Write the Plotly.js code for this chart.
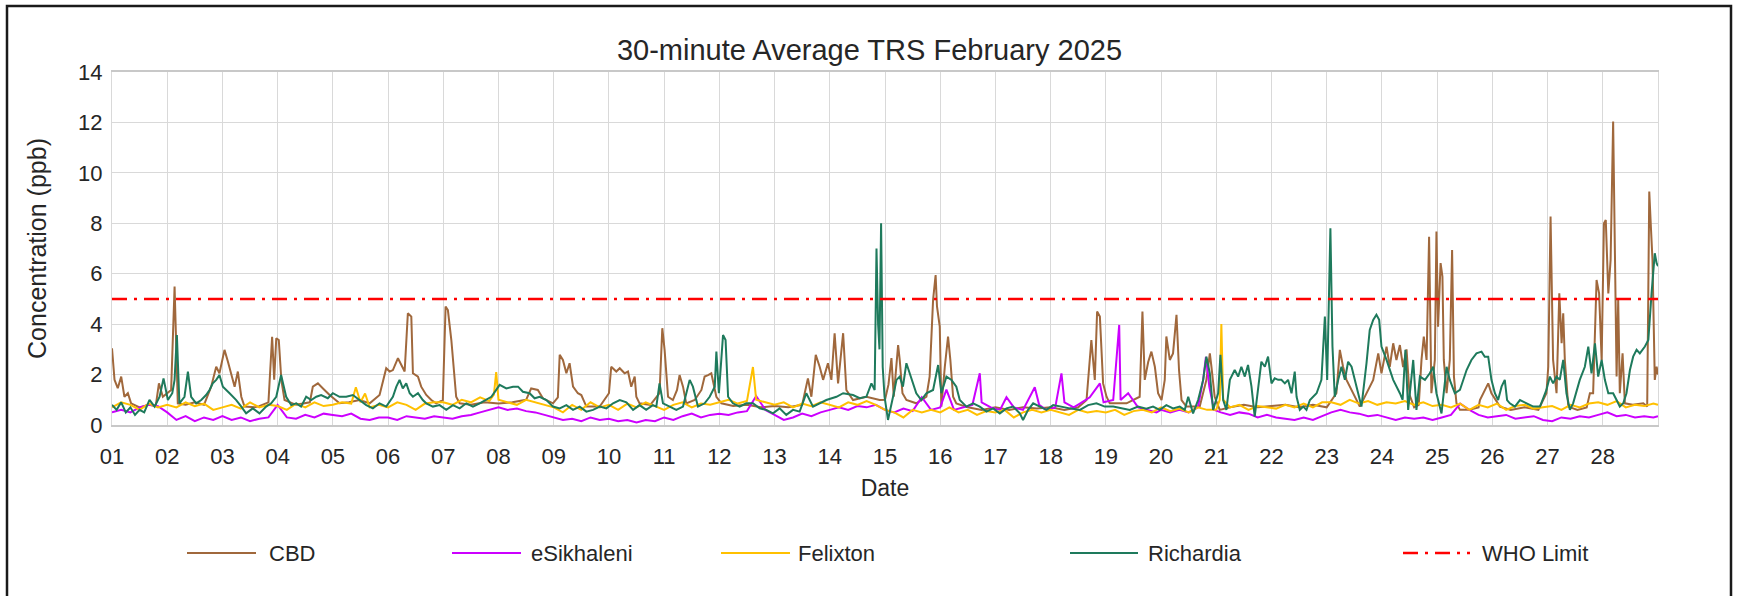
<!DOCTYPE html>
<html><head><meta charset="utf-8">
<script src="https://cdn.plot.ly/plotly-3.0.1.min.js"></script>
<style>html,body{margin:0;padding:0;background:#fff;}#chart{width:1739px;height:596px;}</style>
</head><body><div id="chart"></div>
<script>
// ---- data (hours since 2025-02-01 00:00, concentration ppb) ----
const seriesNames = ['CBD', 'eSikhaleni', 'Felixton', 'Richardia', 'WHO Limit'];
const dayLabels = ['01','02','03','04','05','06','07','08','09','10','11','12','13','14','15','16','17','18','19','20','21','22','23','24','25','26','27','28'];
const whoLimit = 5;

const cbd = [[0,3.04],[1.1,1.79],[2.5,1.46],[4,1.92],[5.4,1.12],[6.9,1.26],[8.3,0.86],[12,0.7],[16,0.8],[19,0.75],[20.4,1.65],[22.1,1.12],[25.7,1.39],[27.2,5.49],[28.6,0.86],[32,0.8],[36,0.9],[40,0.8],[43.1,1.52],[45.3,2.31],[46.7,2.05],[48.9,2.98],[50.4,2.51],[51.8,2.05],[53.3,1.52],[54.7,2.12],[56.2,1.12],[57.6,0.73],[62,0.7],[64,0.75],[68,0.9],[69.6,3.5],[70.5,1.8],[71.4,3.44],[72.5,3.37],[73.6,1.79],[75,0.99],[80,0.8],[86,0.9],[87.3,1.52],[89.5,1.65],[91.7,1.45],[94.6,1.19],[98.9,0.86],[103,0.9],[107.6,0.99],[112,0.86],[116.3,1.19],[119.2,2.25],[120.7,2.12],[122.1,2.18],[124.3,2.65],[125.7,2.38],[127.2,2.12],[128.6,4.43],[130.1,4.3],[130.8,2.05],[133,1.92],[134.4,1.52],[136.6,1.19],[138.8,0.99],[140.9,0.86],[143.8,0.99],[145,4.7],[146,4.56],[147.5,3.37],[149.6,1.12],[151.1,0.86],[156,0.8],[162,0.9],[168,0.85],[174,0.9],[180,1.0],[182.2,1.45],[185.1,1.39],[187.3,1.06],[191.7,0.86],[193.8,1.1],[194.6,2.78],[196,2.58],[197.5,2.05],[198.9,2.45],[200.4,1.52],[202.5,1.26],[204,1.19],[206.2,0.73],[212,0.73],[216,1.26],[217,2.31],[219.2,2.12],[220.7,2.25],[222.8,2.05],[224.3,2.12],[225.7,1.52],[227.2,1.92],[227.9,1.12],[229.3,0.86],[234,0.8],[238,1.26],[239.2,3.84],[240.2,2.98],[241.7,1.12],[243.8,0.99],[245.6,1.39],[246.7,1.98],[248.2,1.52],[249.6,0.86],[253.3,0.99],[256.2,1.39],[257.6,1.92],[259.1,1.98],[260.5,2.05],[262.7,1.12],[264.9,0.86],[270,0.75],[276,0.8],[282,0.7],[288,0.75],[294,0.7],[300,0.8],[302.5,1.85],[304,1.12],[305.9,2.78],[307.6,2.31],[309.1,1.79],[311.2,2.45],[312.7,1.79],[314.1,3.64],[315.6,1.65],[317.8,3.64],[319.2,1.39],[322.1,0.99],[327.9,1.12],[333.7,0.99],[336,1.0],[337.5,1.6],[338.8,2.65],[339.8,1.12],[341.7,3.17],[342.4,2.58],[343.6,1.26],[345.3,0.99],[349.6,0.86],[354,1.12],[355.4,1.92],[356.9,4.96],[358,5.95],[358.6,4.7],[359.8,3.9],[360.5,0.73],[362,2.31],[363.4,3.51],[364.4,2.58],[365.6,1.12],[367,0.86],[372,0.7],[378,0.6],[384,0.7],[390,0.6],[396,0.7],[402,0.65],[408,0.7],[414,0.6],[420,0.7],[423.6,0.99],[425.7,3.37],[427.2,1.79],[428.2,4.5],[429.4,4.3],[430.8,1.65],[432.3,1.12],[433.7,0.86],[441,0.86],[446.7,1.12],[447.9,4.5],[448.9,1.79],[450.4,2.5],[451.8,2.91],[453.3,2.31],[454.7,1.26],[456.2,0.99],[457.6,1.79],[458.3,3.51],[459.8,2.58],[461.2,2.84],[462.7,4.37],[463.8,2.18],[464.9,0.99],[467,0.73],[472.8,0.73],[475.7,1.79],[477.2,2.84],[477.9,2.31],[479.3,1.12],[481.5,0.6],[486,0.7],[492,0.8],[498,0.7],[504,0.75],[510,0.8],[516,0.7],[522,0.8],[528,0.7],[532.2,1.26],[533.7,2.98],[535.1,2.31],[536.6,1.79],[539.5,1.26],[542.4,0.73],[548.2,1.79],[550.4,2.84],[551.8,2.05],[554,3.11],[555.4,2.31],[556.9,3.24],[558.3,2.58],[559.8,3.17],[561.2,2.3],[562.7,3.0],[564,1.2],[566,0.7],[568,0.8],[569.2,2.58],[570.2,3.51],[571.4,2.58],[572.5,7.47],[573.5,1.26],[575,2.58],[575.7,7.67],[576.4,3.9],[577.5,6.42],[578.3,5.89],[578.9,2.58],[580.1,1.26],[581.5,2.58],[582.5,6.94],[583.3,1.92],[584.4,0.86],[585.9,0.6],[590,0.6],[594,0.7],[594.6,0.99],[598.2,1.65],[599.6,1.26],[603.3,0.73],[608,0.6],[614,0.7],[620,0.6],[623.5,1.26],[624.3,2.31],[625.3,8.27],[626.4,2.58],[627.9,1.26],[629.1,5.22],[630.1,3.24],[630.8,4.43],[631.5,2.58],[633,0.73],[637,0.6],[641,0.7],[642.4,1.26],[643.8,1.26],[645.3,5.75],[646.4,5.22],[647.5,2.58],[648.5,8.0],[649.3,8.13],[650.4,5.22],[651.4,6.55],[652.5,12.04],[653.3,5.22],[654,1.92],[654.7,4.96],[655.4,1.26],[656.6,2.84],[657.6,0.86],[661,0.8],[665.6,0.86],[667.3,0.73],[668.2,9.26],[668.9,7.87],[669.6,6.55],[670.6,1.79],[671.4,2.31],[672,2.0]];

const eSikhaleni = [[0,0.5],[4,0.6],[8,0.5],[12,0.7],[16,0.8],[20,0.75],[24,0.5],[28,0.2],[32,0.35],[36,0.15],[40,0.3],[44,0.2],[48,0.35],[52,0.2],[56,0.3],[60,0.15],[64,0.25],[68,0.3],[72,0.8],[76,0.3],[80,0.25],[84,0.4],[88,0.3],[92,0.45],[96,0.4],[100,0.35],[104,0.45],[108,0.25],[112,0.2],[116,0.3],[120,0.3],[124,0.2],[128,0.35],[132,0.3],[136,0.25],[140,0.35],[144,0.3],[148,0.25],[152,0.35],[156,0.4],[160,0.5],[164,0.6],[168,0.7],[172,0.6],[176,0.65],[180,0.55],[184,0.5],[188,0.4],[192,0.3],[196,0.2],[200,0.25],[204,0.15],[208,0.3],[212,0.2],[216,0.25],[220,0.15],[224,0.2],[228,0.1],[232,0.2],[236,0.15],[240,0.3],[244,0.2],[248,0.35],[252,0.45],[256,0.3],[260,0.4],[264,0.45],[268,0.4],[272,0.5],[276,0.55],[280,1.15],[284,0.6],[288,0.4],[292,0.2],[296,0.3],[300,0.45],[304,0.35],[308,0.5],[312,0.6],[316,0.7],[320,0.6],[324,0.75],[328,0.7],[332,0.8],[336,0.6],[340,0.5],[344,0.65],[348,0.55],[352,1.1],[356,0.6],[360,0.7],[362.7,1.4],[366,0.6],[370,0.7],[374,0.8],[377.2,2.05],[378,0.9],[382,0.7],[386,0.6],[388.8,1.1],[392,0.7],[396,0.6],[401.1,1.5],[403,0.8],[406,0.6],[410,0.7],[412.7,2.05],[414,0.9],[418,0.7],[420.7,0.85],[425,1.1],[429.4,1.65],[431,0.9],[435.2,0.99],[437.8,3.97],[438.4,0.99],[441.7,1.26],[446,0.7],[450,0.6],[454,0.5],[456,0.6],[460,0.5],[464,0.6],[468,0.5],[472,0.7],[474.3,1.8],[475.5,2.7],[477,1.5],[479,0.6],[482,0.5],[486,0.4],[490,0.5],[494,0.45],[498,0.3],[502,0.4],[506,0.3],[510,0.25],[514,0.2],[518,0.3],[522,0.2],[526,0.35],[530,0.5],[534,0.6],[538,0.5],[542,0.45],[546,0.35],[550,0.4],[554,0.3],[558,0.2],[562,0.3],[566,0.25],[570,0.3],[574,0.2],[578,0.3],[582,0.4],[586,0.85],[590,0.6],[594,0.4],[598,0.3],[602,0.35],[606,0.4],[610,0.25],[614,0.3],[618,0.35],[622,0.2],[626,0.15],[630,0.3],[634,0.25],[638,0.35],[642,0.3],[646,0.4],[650,0.5],[654,0.35],[658,0.4],[662,0.3],[666,0.35],[670,0.3],[672,0.35]];

const felixton = [[0,0.7],[4,0.9],[8,0.8],[12,0.6],[16,0.85],[20,0.7],[24,0.8],[28,0.7],[32,0.9],[36,0.75],[40,0.85],[44,0.6],[48,0.7],[52,0.8],[56,0.65],[60,0.9],[64,0.7],[68,0.8],[72,0.75],[76,0.6],[80,0.85],[84,0.7],[88,0.9],[92,0.75],[96,0.8],[100,0.9],[104,0.85],[106,1.5],[108,0.9],[110,1.25],[112,0.7],[116,0.8],[120,0.7],[124,0.9],[128,0.8],[132,0.6],[136,0.85],[140,0.9],[144,0.9],[148,0.8],[152,1.0],[156,0.9],[160,1.1],[164,0.95],[166,1.2],[167,2.1],[168,1.0],[172,0.9],[176,0.8],[180,1.0],[184,0.9],[188,0.8],[192,0.7],[196,0.5],[200,0.8],[204,0.6],[208,0.9],[212,0.7],[216,0.8],[220,0.6],[224,0.85],[228,0.7],[232,0.9],[236,0.75],[240,0.6],[244,0.8],[248,0.9],[252,0.7],[256,0.85],[260,0.8],[264,0.9],[268,1.0],[272,0.85],[276,0.95],[278.6,2.3],[280,1.0],[284,0.9],[288,0.8],[292,0.9],[296,0.7],[300,0.85],[304,0.75],[308,0.9],[312,0.8],[316,0.7],[320,0.9],[324,0.8],[328,0.95],[332,0.8],[336,0.6],[340,0.5],[344,0.3],[348,0.6],[352,0.5],[356,0.6],[360,0.5],[364,0.7],[368,0.5],[372,0.6],[376,0.4],[380,0.55],[384,0.5],[388,0.6],[392,0.3],[396,0.5],[400,0.6],[404,0.5],[408,0.6],[412,0.5],[416,0.4],[420,0.6],[424,0.5],[428,0.55],[432,0.5],[436,0.6],[440,0.4],[444,0.55],[448,0.6],[452,0.5],[456,0.7],[460,0.55],[464,0.65],[468,0.5],[472,0.7],[476,0.6],[480,0.6],[481.5,1.0],[482.2,4.0],[483,1.0],[486,0.7],[490,0.8],[494,0.6],[498,0.75],[502,0.7],[506,0.65],[510,0.8],[514,0.7],[518,0.85],[522,0.7],[526,0.9],[530,0.9],[534,0.8],[538,1.0],[542,0.85],[546,0.95],[550,0.8],[554,0.9],[558,0.85],[562,0.95],[566,0.8],[570,0.9],[574,0.75],[578,0.8],[582,0.7],[586,0.85],[590,0.6],[594,0.8],[598,0.7],[602,0.85],[606,0.6],[610,0.75],[614,0.8],[618,0.65],[622,0.7],[626,0.75],[630,0.6],[634,0.8],[638,0.7],[642,0.85],[646,0.9],[650,0.8],[654,0.95],[658,0.7],[662,0.8],[666,0.75],[670,0.85],[672,0.8]];

const richardia = [[0,0.8],[2,0.6],[4,0.9],[6,0.5],[8,0.7],[10,0.4],[12,0.6],[14,0.5],[16.3,1.0],[18.5,0.73],[20.7,1.12],[22.4,1.85],[24.3,0.99],[26.2,1.26],[27.2,1.79],[28.2,3.57],[29.3,0.86],[31.5,1.12],[33,2.12],[34.4,1.12],[36.6,0.86],[38.8,0.99],[40.9,1.19],[42.4,1.39],[43.8,1.65],[45.3,1.79],[46.7,1.98],[48.2,1.52],[51.1,1.26],[54,0.99],[56.2,0.73],[58.3,0.46],[61.2,0.66],[64.1,0.46],[67,0.73],[69.2,0.86],[71.4,1.12],[73.5,1.98],[75.7,1.12],[77.9,0.79],[80.1,0.86],[82.2,0.73],[84.4,1.12],[86.6,0.99],[88.8,1.12],[90.9,1.19],[93.8,1.06],[96,1.26],[98.9,1.12],[101.8,1.12],[104.7,1.19],[107.6,0.99],[110.5,0.79],[113.4,0.66],[116.3,0.86],[119.2,0.73],[122.1,1.12],[123.6,1.52],[125,1.79],[126.4,1.45],[127.9,1.65],[129.4,1.26],[130.8,1.12],[133,1.26],[135.1,0.99],[136.6,0.86],[139.5,0.73],[142.4,0.79],[145.3,0.6],[148.2,0.79],[151.1,0.66],[154,0.86],[156.9,0.73],[159.8,0.86],[162.7,0.99],[164.9,1.12],[167,1.39],[168.5,1.59],[171.4,1.45],[174.3,1.52],[176.5,1.52],[178.6,1.32],[181.5,1.26],[183.7,1.06],[185.9,1.12],[188.8,0.99],[191.7,0.73],[194.6,0.66],[197.5,0.79],[200.4,0.6],[203.3,0.73],[206.2,0.53],[209.1,0.6],[212,0.73],[214.9,0.66],[217.8,0.86],[220.7,0.99],[223.6,0.9],[226.5,0.6],[229.3,0.79],[232.2,0.6],[235.1,0.79],[236.6,0.73],[238,1.65],[239.5,0.86],[242.4,0.73],[245.3,0.6],[248.2,0.73],[251.1,1.79],[252.5,1.52],[254.7,0.73],[257.6,0.86],[259.8,1.12],[262,1.52],[262.7,2.91],[263.8,1.26],[265.6,3.57],[266.7,3.37],[267.8,1.12],[269.9,0.86],[272.8,0.73],[275.7,0.86],[278.6,0.86],[281.5,0.66],[284.4,0.6],[287.3,0.46],[290.2,0.66],[293.1,0.4],[296,0.6],[298.9,0.53],[301.8,1.26],[304.7,0.73],[307.6,0.86],[310.5,0.99],[314.9,1.12],[317.8,1.26],[322.1,1.19],[325,1.06],[327.9,1.12],[330.1,1.65],[331.5,1.39],[332.3,7.0],[333,4.0],[333.6,3.0],[334.3,8.0],[335,2.31],[335.8,1.12],[337.3,0.2],[339.5,1.12],[341,1.79],[342.4,1.92],[343.8,1.52],[345.3,2.45],[346.7,2.05],[348.2,1.65],[349.6,1.26],[351.8,0.99],[354,1.26],[356.9,1.39],[359.1,2.38],[360.5,1.26],[362.7,1.92],[364.9,1.79],[367,1.52],[368.5,0.99],[371.4,0.73],[374.3,0.86],[377.2,0.73],[380.1,0.53],[383,0.66],[385.9,0.46],[388.8,0.66],[391.7,0.73],[394.6,0.46],[396,0.2],[398.2,0.6],[400.4,0.86],[403.3,0.73],[406.2,0.6],[409.1,0.79],[412,0.73],[416.3,0.66],[420.7,0.6],[424.3,0.79],[427.9,0.86],[431.5,0.73],[435.2,0.73],[438.8,0.66],[442.4,0.6],[446,0.73],[449.6,0.65],[452.5,0.73],[455.4,0.6],[458.3,0.79],[461.2,0.66],[464.1,0.73],[466.3,0.6],[467.8,1.12],[469.9,0.46],[472.1,0.99],[474.3,1.79],[475.7,2.71],[477.2,2.05],[478.6,0.6],[480.8,1.26],[481.8,2.78],[483,0.99],[484.4,0.6],[485.9,1.79],[488,2.18],[489.5,1.92],[490.9,2.31],[492.4,1.92],[493.8,2.38],[495.3,1.52],[496.7,0.33],[498.2,1.52],[499.6,2.51],[501.1,2.31],[502.5,2.71],[504,1.65],[505.4,1.85],[506.9,1.79],[508.3,1.79],[509.8,1.65],[511.2,1.79],[512.7,1.26],[514.1,2.12],[514.9,1.12],[516.3,0.6],[517.8,0.73],[519.2,0.6],[520.7,0.99],[522.1,1.12],[523.6,1.26],[525.7,1.79],[527.2,4.3],[528.2,1.79],[529.6,7.8],[530.5,3.11],[531.5,1.12],[533,1.79],[534.4,2.31],[535.9,1.79],[537.3,2.51],[538.8,2.31],[541,1.52],[543.1,0.73],[545.3,2.45],[546.7,3.77],[548.2,4.17],[549.6,4.37],[550.8,4.17],[551.8,3.11],[554,2.58],[556.9,1.79],[559.8,1.26],[561,1.0],[562.2,2.98],[563.4,0.6],[565.6,2.58],[567,0.6],[568.5,1.92],[570.7,1.79],[572.8,2.05],[574.3,2.31],[575.7,1.26],[577.9,0.46],[580.1,2.31],[581.5,1.79],[583.7,1.26],[585.9,1.39],[588.8,2.18],[590.9,2.58],[593.1,2.84],[595.3,2.91],[596.7,2.71],[598.2,2.71],[599.6,1.79],[601.1,1.26],[602.5,0.99],[604,1.52],[605.4,1.79],[606.4,0.99],[607.6,0.86],[609.8,0.73],[612,0.99],[614.9,0.86],[617.8,0.73],[620.7,0.73],[623.5,1.39],[625,1.92],[626.4,1.65],[627.9,1.92],[629.3,1.79],[630.8,2.58],[632.2,1.26],[633.7,0.6],[635.1,0.86],[638,1.79],[640.2,2.31],[641.7,3.11],[643.1,2.05],[644.6,3.24],[646,1.92],[647.5,2.58],[648.9,1.79],[650.4,1.26],[652.5,1.26],[654,0.99],[655.4,0.73],[656.9,0.86],[658.3,1.26],[659.8,2.18],[661.2,2.71],[662.7,2.98],[664.1,2.84],[666.3,3.11],[667.8,3.37],[669.2,5.22],[670.6,6.81],[671.4,6.42],[672,6.3]];

// ---- styling ----
const colors = ['#A0683C', '#CC00FF', '#FFC000', '#1E7A5C', '#FF0000'];
const FONT = 'Liberation Sans, Arial, sans-serif';
const TXT = '#262626';

const base = Date.UTC(2025, 1, 1);
function hToDate(h) {
  return new Date(base + h * 3600000).toISOString().slice(0, 19).replace('T', ' ');
}
function mk(points, i) {
  return {
    type: 'scatter', mode: 'lines', name: seriesNames[i],
    x: points.map(p => hToDate(p[0])),
    y: points.map(p => p[1]),
    line: {color: colors[i], width: 2},
    showlegend: false
  };
}
const xStart = '2025-02-01 00:00:00', xEnd = '2025-03-01 00:00:00';
const whoDash = '15px,7px,3px,7px';
const traces = [mk(cbd, 0), mk(eSikhaleni, 1), mk(felixton, 2), mk(richardia, 3), {
  type: 'scatter', mode: 'lines', name: seriesNames[4],
  x: [xStart, xEnd], y: [whoLimit, whoLimit],
  line: {color: colors[4], width: 2.6, dash: whoDash}, showlegend: false
}];

// plot area geometry in px
const W = 1739, H = 596, L = 112, R = 81, T = 72, B = 171;
const pw = W - L - R, ph = H - T - B;
const px = x => (x - L) / pw;
const py = y => (H - B - y) / ph;

// custom legend
const legY = 553;
const legItems = [
  {x0: 187, x1: 256, tx: 267},
  {x0: 452, x1: 521, tx: 529},
  {x0: 721, x1: 790, tx: 796},
  {x0: 1070, x1: 1138, tx: 1146},
  {x0: 1403, x1: 1470, tx: 1480}
];
const shapes = [{
  type: 'rect', xref: 'paper', yref: 'paper',
  x0: px(7), x1: px(1731), y0: py(640), y1: py(6),
  line: {color: '#1a1a1a', width: 2.5}, fillcolor: 'rgba(0,0,0,0)', layer: 'above'
}];
const annotations = [];
legItems.forEach((it, i) => {
  shapes.push({type: 'line', xref: 'paper', yref: 'paper', x0: px(it.x0), x1: px(it.x1), y0: py(legY), y1: py(legY),
    line: {color: colors[i], width: i === 4 ? 2.6 : 2.2, dash: i === 4 ? whoDash : 'solid'}});
  annotations.push({xref: 'paper', yref: 'paper', x: px(it.tx), y: py(legY), xanchor: 'left', yanchor: 'middle',
    text: seriesNames[i], showarrow: false, font: {family: FONT, size: 22, color: TXT}});
});

const layout = {
  width: W, height: H,
  margin: {l: L, r: R, t: T, b: B, pad: 0},
  paper_bgcolor: '#ffffff', plot_bgcolor: '#ffffff',
  font: {family: FONT, color: TXT},
  title: {text: '30-minute Average TRS February 2025', font: {family: FONT, size: 29, color: TXT},
    x: 0.5, xref: 'container', y: 1 - 50 / H, yref: 'container', yanchor: 'middle'},
  xaxis: {
    type: 'date', range: [xStart, xEnd],
    tickvals: dayLabels.map(d => '2025-02-' + d + ' 00:00:00'), ticktext: dayLabels,
    showgrid: true, gridcolor: '#D9D9D9', gridwidth: 1.3,
    showline: true, linecolor: '#C8C8C8', linewidth: 1.5, mirror: true,
    ticks: '', ticklabelstandoff: 11, zeroline: false,
    tickfont: {family: FONT, size: 22, color: TXT},
    title: {text: 'Date', font: {family: FONT, size: 23, color: TXT}, standoff: 12},
    automargin: false
  },
  yaxis: {
    range: [0, 14], dtick: 2, tick0: 0,
    showgrid: true, gridcolor: '#D9D9D9', gridwidth: 1.3,
    showline: true, linecolor: '#D9D9D9', linewidth: 1.3, mirror: true,
    ticks: '', ticklabelstandoff: 4, zeroline: false,
    tickfont: {family: FONT, size: 22, color: TXT},
    title: {text: 'Concentration (ppb)', font: {family: FONT, size: 25, color: TXT}, standoff: 24},
    automargin: false
  },
  shapes: shapes,
  annotations: annotations,
  showlegend: false
};

Plotly.newPlot('chart', traces, layout, {displayModeBar: false, responsive: false});
</script>
</body></html>
